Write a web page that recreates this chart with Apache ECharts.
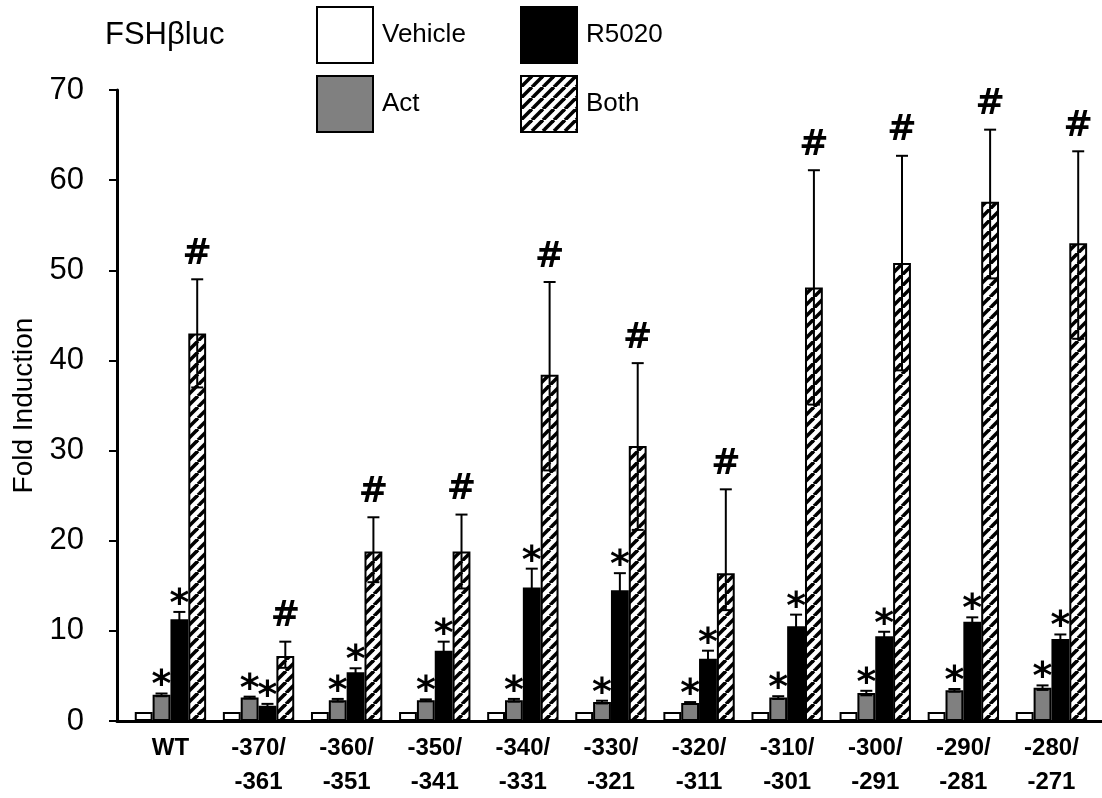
<!DOCTYPE html>
<html>
<head>
<meta charset="UTF-8">
<title>FSHβluc fold induction</title>
<script src="https://cdn.jsdelivr.net/npm/echarts@6/dist/echarts.min.js"></script>
<style>
    html, body { margin: 0; padding: 0; background: #fff; }
    #box { width: 1102px; height: 798px; }
</style>
</head>
<body>
<div id="box"></div>
<script>
    // data
    const categories = ['WT', '-370/\n-361', '-360/\n-351', '-350/\n-341', '-340/\n-331', '-330/\n-321',
        '-320/\n-311', '-310/\n-301', '-300/\n-291', '-290/\n-281', '-280/\n-271']
    const vehicle = [1, 1, 1, 1, 1, 1, 1, 1, 1, 1, 1]
    const act = [2.9, 2.6, 2.3, 2.3, 2.3, 2.1, 2.0, 2.6, 3.1, 3.4, 3.7]
    const actErr = [0.15, 0.1, 0.15, 0.1, 0.15, 0.15, 0.1, 0.15, 0.25, 0.15, 0.25]
    const r5020 = [11.3, 1.7, 5.4, 7.8, 14.8, 14.5, 6.9, 10.5, 9.4, 11.0, 9.1]
    const r5020Err = [0.8, 0.2, 0.45, 1.0, 2.1, 1.9, 0.9, 1.3, 0.5, 0.5, 0.5]
    const both = [43.0, 7.2, 18.8, 18.8, 38.4, 30.5, 16.4, 48.1, 50.8, 57.6, 53.0]
    const bothErrUp = [6.0, 1.6, 3.8, 4.1, 10.3, 9.2, 9.3, 13.0, 11.9, 8.0, 10.2]
    const bothErrDown = [6.0, 1.3, 3.4, 4.1, 10.6, 9.3, 4.1, 13.0, 11.9, 8.5, 10.6]
    const yTicks = [0, 70, 10] // min, max, step

    const FONT = "'Liberation Sans', Arial, sans-serif"
    const MARK_FONT = "'DejaVu Sans', 'Liberation Sans', sans-serif"
    const CAT_GAP = 0.19

    // hatch pattern for "Both"
    function hatch() {
        const s = 11
        const c = document.createElement('canvas')
        c.width = s; c.height = s
        const ctx = c.getContext('2d')
        ctx.fillStyle = '#fff'
        ctx.fillRect(0, 0, s, s)
        ctx.strokeStyle = '#000'
        ctx.lineWidth = 3.6
        for (const o of [-s, 0, s]) {
            ctx.beginPath()
            ctx.moveTo(o, s)
            ctx.lineTo(o + s, 0)
            ctx.stroke()
        }
        return { image: c, repeat: 'repeat' }
    }

    // error bars + significance marks, positioned on the same band as the bars
    function overlay(k, vals, up, down, mark) {
        return {
            type: 'custom',
            xAxisIndex: 1,
            yAxisIndex: 1,
            z: 5,
            silent: true,
            data: vals.map((v, i) => [i, v, up[i], down[i]]),
            renderItem: function (params, api) {
                const i = api.value(0), v = api.value(1)
                const top = api.coord([i, v])
                const hi = api.coord([i, v + api.value(2)])
                const lo = api.coord([i, v - api.value(3)])
                const band = api.size([1, 0])[0]
                const bw = band * (1 - CAT_GAP) / 4
                const x = top[0] + (k - 1.5) * bw
                const cap = 6
                const ls = { stroke: '#000', lineWidth: 2 }
                const isHash = mark === '#'
                return {
                    type: 'group',
                    children: [
                        { type: 'line', shape: { x1: x, y1: hi[1], x2: x, y2: lo[1] }, style: ls },
                        { type: 'line', shape: { x1: x - cap, y1: hi[1], x2: x + cap, y2: hi[1] }, style: ls },
                        { type: 'line', shape: { x1: x - cap, y1: lo[1], x2: x + cap, y2: lo[1] }, style: ls },
                        {
                            type: 'text',
                            style: {
                                text: mark, x: x, y: hi[1] + (isHash ? -7 : 12), align: 'center', verticalAlign: 'bottom',
                                font: 'bold ' + (isHash ? 35 : 38) + 'px ' + MARK_FONT, fill: '#000'
                            }
                        }
                    ]
                }
            }
        }
    }

    const myChart = echarts.init(document.getElementById('box'))

    const legendBase = {
        orient: 'vertical', top: 6, padding: 0, itemWidth: 56, itemHeight: 56, itemGap: 11,
        icon: 'rect', selectedMode: false,
        itemStyle: { borderColor: '#000', borderWidth: 2 },
        textStyle: { fontFamily: FONT, fontSize: 26, color: '#000', padding: [10, 0, 0, 4] }
    }

    const option = {
        animation: false,
        title: {
            text: 'FSHβluc',
            left: 105,
            top: 20,
            padding: 0,
            textStyle: { fontFamily: FONT, fontSize: 31, fontWeight: 'normal', color: '#000' }
        },
        legend: [
            Object.assign({}, legendBase, { left: 316, data: ['Vehicle', 'Act'] }),
            Object.assign({}, legendBase, { left: 520, data: ['R5020', 'Both'] })
        ],
        grid: [
            // axes frame
            { left: 117, right: 0, top: 90, bottom: 77, outerBoundsMode: 'none' },
            // bars
            { left: 126.4, right: 6.5, top: 90, bottom: 77, outerBoundsMode: 'none' }
        ],
        xAxis: [{
            gridIndex: 0, type: 'value', min: 0, max: 1,
            axisLine: { lineStyle: { color: '#000', width: 3 } },
            axisTick: { show: false }, axisLabel: { show: false }, splitLine: { show: false }
        }, {
            gridIndex: 1, type: 'category', data: categories,
            axisLine: { show: false }, axisTick: { show: false },
            axisLabel: {
                interval: 0, margin: 10, color: '#000', fontFamily: FONT,
                fontSize: 24, fontWeight: 'bold', lineHeight: 34
            }
        }],
        yAxis: [{
            gridIndex: 0, type: 'value', min: yTicks[0], max: yTicks[1], interval: yTicks[2],
            name: 'Fold Induction', nameLocation: 'middle', nameGap: 72,
            nameTextStyle: { fontFamily: FONT, fontSize: 28, color: '#000' },
            axisLine: { show: true, lineStyle: { color: '#000', width: 3 } },
            axisTick: { show: true, length: 8, lineStyle: { color: '#000', width: 2 } },
            axisLabel: { margin: 33, color: '#000', fontFamily: FONT, fontSize: 31 },
            splitLine: { show: false }
        }, {
            gridIndex: 1, type: 'value', min: yTicks[0], max: yTicks[1], show: false
        }],
        series: [{
            name: 'Vehicle', type: 'bar', xAxisIndex: 1, yAxisIndex: 1, data: vehicle,
            barGap: '0%', barCategoryGap: (CAT_GAP * 100) + '%',
            itemStyle: { color: '#fff', borderColor: '#000', borderWidth: 2 }
        }, {
            name: 'Act', type: 'bar', xAxisIndex: 1, yAxisIndex: 1, data: act,
            itemStyle: { color: '#808080', borderColor: '#000', borderWidth: 2 }
        }, {
            name: 'R5020', type: 'bar', xAxisIndex: 1, yAxisIndex: 1, data: r5020,
            itemStyle: { color: '#000', borderColor: '#000', borderWidth: 2 }
        }, {
            name: 'Both', type: 'bar', xAxisIndex: 1, yAxisIndex: 1, data: both,
            itemStyle: { color: hatch(), borderColor: '#000', borderWidth: 2 }
        },
            overlay(1, act, actErr, actErr, '*'),
            overlay(2, r5020, r5020Err, r5020Err, '*'),
            overlay(3, both, bothErrUp, bothErrDown, '#')
        ]
    }
    myChart.setOption(option)
</script>
</body>
</html>
